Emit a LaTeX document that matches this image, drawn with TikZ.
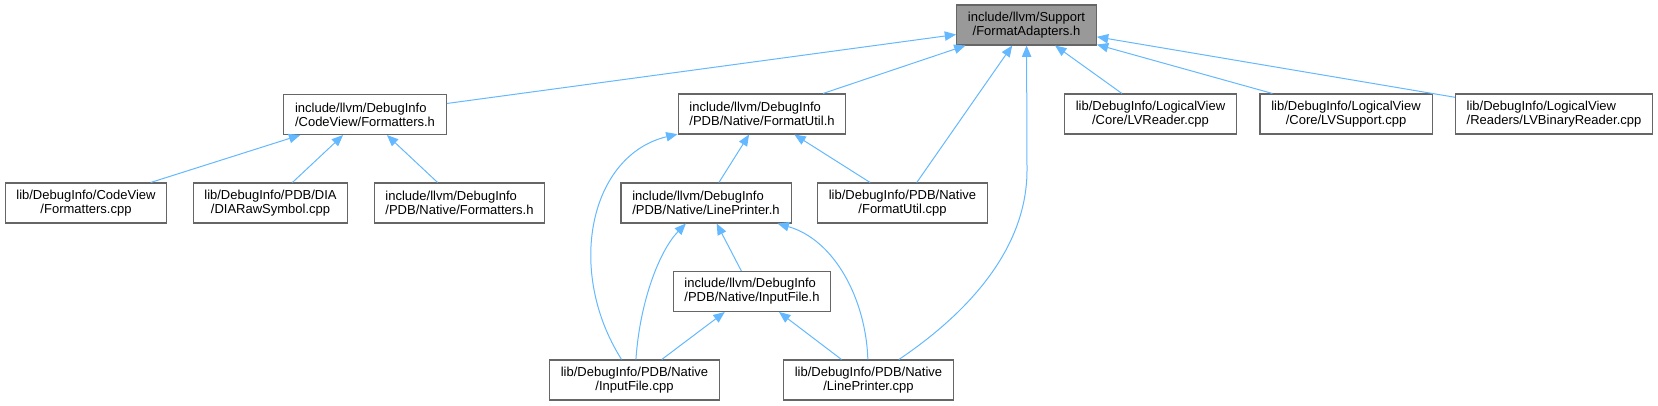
\documentclass[tikz,border=0pt]{standalone}
\usepackage{fontspec}
\setsansfont{Liberation Sans}
\usepackage{tikz}
\usetikzlibrary{arrows.meta}
\definecolor{doxyblue}{HTML}{63B8FF}
\definecolor{doxygray1}{HTML}{666666}
\definecolor{doxygray2}{HTML}{999999}

\begin{document}
\begin{tikzpicture}[x=0.75pt, y=-0.75pt, font=\sffamily\fontsize{9.75}{10.5}\selectfont]

\useasboundingbox (0,0) rectangle (1658,406);

% Styles for files and include edges
\tikzset{
  fileL/.style={draw=doxygray1, line width=0.8pt, fill=white, align=left, inner xsep=8.5pt, inner ysep=2pt, minimum height=30pt},
  fileC/.style={fileL, align=center},
  dep line/.style={draw=doxyblue, line width=0.75pt, -{Triangle[length=8.5pt, width=7pt]}}
}

% Top: the header itself
\node[fileC, fill=doxygray2] (root) at (1026.5,25) {include/llvm/Support\\/FormatAdapters.h};

% Row 1
\node[fileL] (cvfmth)    at (365,114.5) {include/llvm/DebugInfo\\/CodeView/Formatters.h};
\node[fileL] (fmtutilh)  at (762,114)   {include/llvm/DebugInfo\\/PDB/Native/FormatUtil.h};
\node[fileC] (lvreader)  at (1150.5,114) {lib/DebugInfo/LogicalView\\/Core/LVReader.cpp};
\node[fileC] (lvsupport) at (1346,114)  {lib/DebugInfo/LogicalView\\/Core/LVSupport.cpp};
\node[fileL] (lvbinary)  at (1554,114)  {lib/DebugInfo/LogicalView\\/Readers/LVBinaryReader.cpp};

% Row 2
\node[fileC] (cvfmtcpp)     at (86,203)    {lib/DebugInfo/CodeView\\/Formatters.cpp};
\node[fileC] (diaraw)       at (270.5,203) {lib/DebugInfo/PDB/DIA\\/DIARawSymbol.cpp};
\node[fileL] (pdbfmth)      at (459.5,203) {include/llvm/DebugInfo\\/PDB/Native/Formatters.h};
\node[fileL] (lineprinterh) at (706,203)   {include/llvm/DebugInfo\\/PDB/Native/LinePrinter.h};
\node[fileC] (fmtutilcpp)   at (902.5,203) {lib/DebugInfo/PDB/Native\\/FormatUtil.cpp};

% Row 3
\node[fileL] (inputfileh) at (752,291.5) {include/llvm/DebugInfo\\/PDB/Native/InputFile.h};

% Row 4
\node[fileC] (inputfilecpp)   at (634.5,380) {lib/DebugInfo/PDB/Native\\/InputFile.cpp};
\node[fileC] (lineprintercpp) at (868.5,380) {lib/DebugInfo/PDB/Native\\/LinePrinter.cpp};

% Straight edges
\foreach \a/\b in {cvfmth/root, fmtutilh/root, fmtutilcpp/root, lvreader/root, lvsupport/root, lvbinary/root,
                   cvfmtcpp/cvfmth, diaraw/cvfmth, pdbfmth/cvfmth,
                   lineprinterh/fmtutilh, fmtutilcpp/fmtutilh,
                   inputfileh/lineprinterh, inputfilecpp/inputfileh, lineprintercpp/inputfileh} {
    \draw[dep line] (\a) -- (\b);
}

% Curved edges
\draw[dep line] (lineprintercpp) .. controls (950,325) and (1027,260) .. (1027,170) -- (root);
\draw[dep line] (inputfilecpp) .. controls (565,270) and (590,155) .. (fmtutilh);
\draw[dep line] (inputfilecpp) .. controls (640,300) and (660,250) .. (lineprinterh);
\draw[dep line] (lineprintercpp) .. controls (866,300) and (835,240) .. (lineprinterh);

\end{tikzpicture}
\end{document}
